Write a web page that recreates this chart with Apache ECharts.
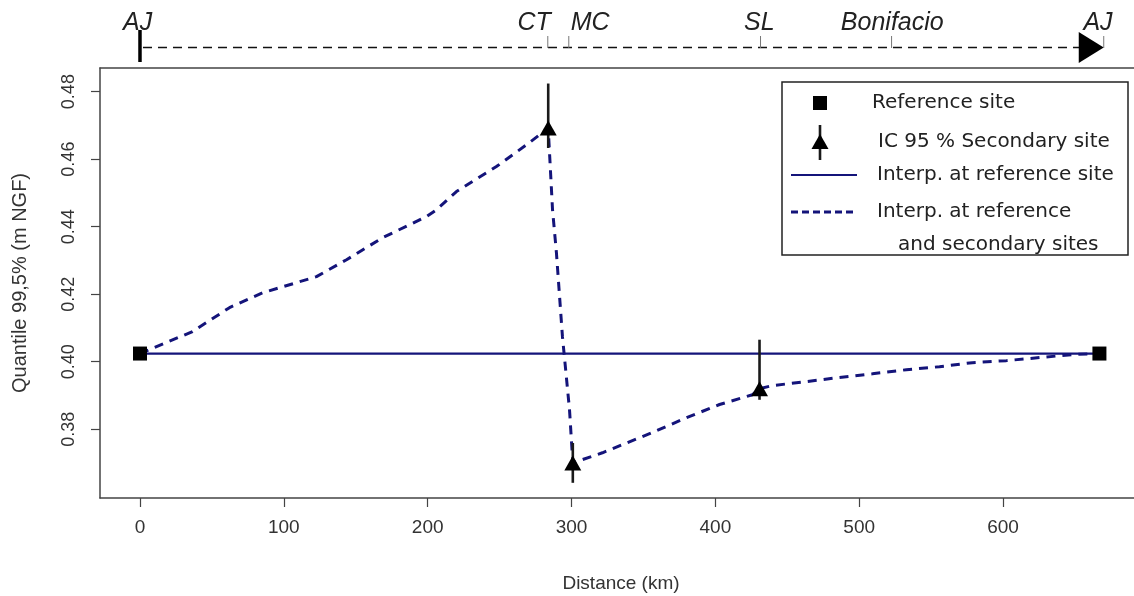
<!DOCTYPE html>
<html><head><meta charset="utf-8">
<script src="https://cdn.jsdelivr.net/npm/echarts@6/dist/echarts.min.js"></script>
<style>html,body{margin:0;padding:0;background:#fff}#c{width:1134px;height:596px}</style>
</head><body><div id="c"></div>
<script>
// ---- data ----
const refSites = [[0, 0.4024], [667, 0.4024]];           // reference sites (km, m NGF)
const secDist = [283.8, 300.9, 430.7];                      // secondary sites distance (km)
const secVal  = [0.4692, 0.3700, 0.3920];                   // secondary sites quantile
const secLow  = [0.4633, 0.3641, 0.3887];                   // IC 95% low
const secHigh = [0.4824, 0.3759, 0.4065];                   // IC 95% high
const interpRefX = [0, 667];
const interpRefY = [0.4024, 0.4024];
const interpAllX = [0, 36.5, 62.2, 85.2, 108.8, 122.7, 143.6, 168.6, 199.2, 206.1, 220.0, 247.8, 270.8, 283.8,
  286.8, 289.5, 293.7, 298.6, 300.9, 321.5, 356.2, 380.0, 402.9, 425.8, 430.7, 439.7, 463.3, 486.3, 509.2,
  532.8, 555.8, 578.7, 602.3, 625.3, 648.3, 667];
const interpAllY = [0.4024, 0.4089, 0.4160, 0.4204, 0.4234, 0.4252, 0.4302, 0.4367, 0.4430, 0.4450, 0.4504, 0.4578, 0.4649, 0.4692,
  0.4450, 0.4323, 0.4074, 0.3858, 0.3700, 0.3730, 0.3790, 0.3834, 0.3873, 0.3902, 0.3920, 0.3929, 0.3941, 0.3953, 0.3964,
  0.3976, 0.3985, 0.3997, 0.4003, 0.4012, 0.4021, 0.4024];
const stationNames = ['AJ', 'CT', 'MC', 'SL', 'Bonifacio', 'AJ'];
const stationLabelKm = [-1.7, 274, 313, 430.6, 523, 666];
const stationTickKm = [null, 283.5, 298.1, 431.4, 522.5, 670];
const xTicks = [0, 100, 200, 300, 400, 500, 600];
const yTicks = [0.38, 0.40, 0.42, 0.44, 0.46, 0.48];

const NAVY = '#14147a';
const chart = echarts.init(document.getElementById('c'));
const font = 'Liberation Sans, Arial, sans-serif';
const lfont = 'DejaVu Sans, sans-serif';
const frame = {show: true, onZero: false, lineStyle: {color: '#444', width: 1.5}};

const legendX = 782, legendY = 82;
option = {
  backgroundColor: '#fff',
  animation: false,
  grid: [
    {left: 100, top: 68, width: 1042, height: 430, show: false, containLabel: false, outerBoundsMode: 'none'},
    {left: 100, top: 0, width: 1042, height: 68, show: false, outerBoundsMode: 'none'}
  ],
  xAxis: [
    {type: 'value', gridIndex: 0, min: -27.8, max: 696.6, position: 'bottom',
     axisLine: frame, splitLine: {show: false},
     axisTick: {show: true, customValues: xTicks, length: 9, lineStyle: {color: '#444', width: 1.2}},
     axisLabel: {customValues: xTicks, color: '#333', fontSize: 19, fontFamily: font, margin: 20},
     name: 'Distance (km)', nameLocation: 'middle', nameGap: 86,
     nameTextStyle: {color: '#333', fontSize: 19, fontFamily: font, verticalAlign: 'middle'}},
    {type: 'value', gridIndex: 1, min: -27.8, max: 696.6, show: false},
    {type: 'value', gridIndex: 0, min: -27.8, max: 696.6, position: 'top',
     axisLine: frame, axisTick: {show: false}, axisLabel: {show: false}, splitLine: {show: false}}
  ],
  yAxis: [
    {type: 'value', gridIndex: 0, min: 0.3596, max: 0.4870, position: 'left',
     axisLine: frame, splitLine: {show: false},
     axisTick: {show: true, customValues: yTicks, length: 9, lineStyle: {color: '#444', width: 1.2}},
     axisLabel: {customValues: yTicks, rotate: 90, color: '#333', fontSize: 18, fontFamily: font, margin: 22,
       formatter: v => v.toFixed(2)},
     name: 'Quantile 99,5% (m NGF)', nameLocation: 'middle', nameGap: 80, nameRotate: 90,
     nameTextStyle: {color: '#333', fontSize: 20, fontFamily: font, verticalAlign: 'middle'}},
    {type: 'value', gridIndex: 1, min: 0, max: 1, show: false}
  ],
  series: [
    {type: 'line', name: 'ref', xAxisIndex: 0, yAxisIndex: 0, data: interpRefX.map((x, i) => [x, interpRefY[i]]),
     showSymbol: false, lineStyle: {color: NAVY, width: 2.2}, z: 2},
    {type: 'line', name: 'all', xAxisIndex: 0, yAxisIndex: 0, data: interpAllX.map((x, i) => [x, interpAllY[i]]),
     showSymbol: false, lineStyle: {color: NAVY, width: 3, type: [9, 7]}, z: 3},
    {type: 'custom', name: 'ic', xAxisIndex: 0, yAxisIndex: 0,
     data: secDist.map((x, i) => [x, secLow[i], secHigh[i]]),
     renderItem: (params, api) => {
       const a = api.coord([api.value(0), api.value(1)]);
       const b = api.coord([api.value(0), api.value(2)]);
       return {type: 'line', shape: {x1: a[0], y1: a[1], x2: b[0], y2: b[1]},
               style: {stroke: '#1a1a1a', lineWidth: 2.6}};
     }, z: 4},
    {type: 'scatter', name: 'sec', xAxisIndex: 0, yAxisIndex: 0, data: secDist.map((x, i) => [x, secVal[i]]),
     symbol: 'triangle', symbolSize: [17, 15], itemStyle: {color: '#000', opacity: 1}, z: 5},
    {type: 'scatter', name: 'refpts', xAxisIndex: 0, yAxisIndex: 0, data: refSites,
     symbol: 'rect', symbolSize: 14, itemStyle: {color: '#000', opacity: 1}, z: 5},
    // top transect strip
    {type: 'custom', name: 'strip', xAxisIndex: 1, yAxisIndex: 1, data: [[0, 0]],
     renderItem: (params, api) => {
       const x0 = api.coord([0, 0])[0];
       const xe = api.coord([stationTickKm[stationTickKm.length - 1], 0])[0];
       const yL = 47.5;
       return {type: 'group', children: [
         {type: 'line', shape: {x1: x0 + 3, y1: yL, x2: xe - 24, y2: yL}, style: {stroke: '#111', lineWidth: 1.6, lineDash: [9, 6]}},
         {type: 'line', shape: {x1: x0, y1: 30, x2: x0, y2: 62}, style: {stroke: '#000', lineWidth: 3.5}},
         {type: 'polygon', shape: {points: [[xe - 25, 32], [xe, yL], [xe - 25, 63]]}, style: {fill: '#000'}}
       ]};
     }, z: 5},
    {type: 'custom', name: 'stations', xAxisIndex: 1, yAxisIndex: 1,
     data: stationLabelKm.map((x, i) => [x, stationTickKm[i] == null ? x : stationTickKm[i]]),
     renderItem: (params, api) => {
       const i = params.dataIndex;
       const xl = api.coord([api.value(0), 0])[0];
       const xt = api.coord([api.value(1), 0])[0];
       const ch = [{type: 'text', x: xl, y: 23.5, style: {text: stationNames[i], fontSize: 25, fontStyle: 'italic',
                    fontFamily: font, fill: '#222', align: 'center', verticalAlign: 'middle'}}];
       if (stationTickKm[i] != null) ch.push({type: 'line', shape: {x1: xt, y1: 36, x2: xt, y2: 48},
                    style: {stroke: '#777', lineWidth: 1}});
       return {type: 'group', children: ch};
     }, z: 6}
  ],
  graphic: [
    {type: 'rect', shape: {x: legendX, y: legendY, width: 346, height: 173}, style: {fill: '#fff', stroke: '#222', lineWidth: 1.5}, z: 10},
    {type: 'rect', shape: {x: 813, y: 96, width: 14, height: 14}, style: {fill: '#000'}, z: 11},
    {type: 'line', shape: {x1: 820, y1: 125, x2: 820, y2: 160}, style: {stroke: '#1a1a1a', lineWidth: 2.6}, z: 11},
    {type: 'polygon', shape: {points: [[811.5, 149], [820, 134], [828.5, 149]]}, style: {fill: '#000'}, z: 12},
    {type: 'line', shape: {x1: 791, y1: 175, x2: 857, y2: 175}, style: {stroke: NAVY, lineWidth: 2.2}, z: 11},
    {type: 'line', shape: {x1: 791, y1: 212, x2: 857, y2: 212}, style: {stroke: NAVY, lineWidth: 3, lineDash: [7, 4]}, z: 11},
    {type: 'text', x: 872, y: 103, style: {text: 'Reference site', fontSize: 20, fontFamily: lfont, fill: '#222', verticalAlign: 'middle'}, z: 11},
    {type: 'text', x: 878, y: 142, style: {text: 'IC 95 % Secondary site', fontSize: 20, fontFamily: lfont, fill: '#222', verticalAlign: 'middle'}, z: 11},
    {type: 'text', x: 877, y: 175, style: {text: 'Interp. at reference site', fontSize: 20, fontFamily: lfont, fill: '#222', verticalAlign: 'middle'}, z: 11},
    {type: 'text', x: 877, y: 212, style: {text: 'Interp. at reference', fontSize: 20, fontFamily: lfont, fill: '#222', verticalAlign: 'middle'}, z: 11},
    {type: 'text', x: 898, y: 245, style: {text: 'and secondary sites', fontSize: 20, fontFamily: lfont, fill: '#222', verticalAlign: 'middle'}, z: 11}
  ]
};
chart.setOption(option);
</script></body></html>
